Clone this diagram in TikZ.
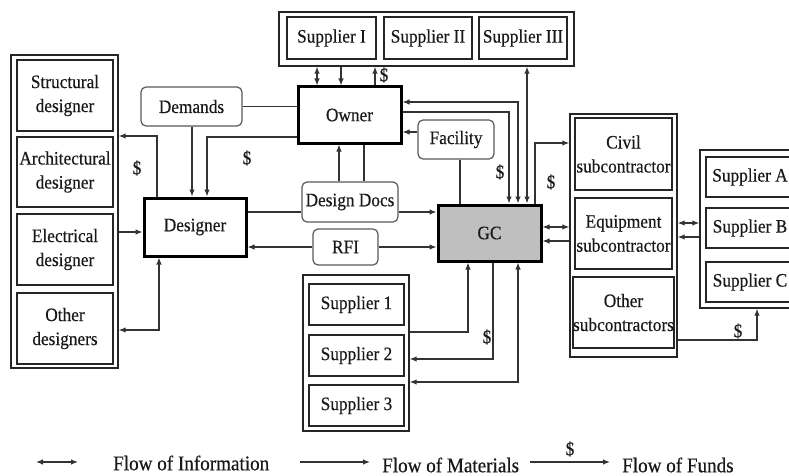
\documentclass[tikz,border=0pt]{standalone}
\usepackage{fontspec}
\setmainfont[FakeStretch=0.91,FakeBold=0.4]{Liberation Serif}
\usetikzlibrary{arrows.meta}
\begin{document}
\begin{tikzpicture}[x=1pt,y=-1pt,
  >={Latex[length=7pt,width=5.5pt]},
  txt/.style={font=\fontsize{19}{24}\selectfont, text=black!90},
  ibox/.style={draw=black!85, line width=2.2pt, inner sep=0pt, align=center, txt},
  grp/.style={draw=black!85, line width=1.4pt, inner sep=0pt},
  heavy/.style={draw=black, line width=3pt, inner sep=0pt, align=center, txt},
  rbox/.style={draw=black!65, line width=1.2pt, rounded corners=5pt, fill=white, inner sep=0pt, align=center, txt},
  conn/.style={draw=black!80, line width=1.2pt},
  mat/.style={conn, ->},
  info/.style={conn, <->},
  lbl/.style={txt, inner sep=0pt},
  leg/.style={font=\fontsize{21}{25}\selectfont, text=black!90, inner sep=0pt, anchor=west},
]
\useasboundingbox (0,0) rectangle (789,476);

% ---- top suppliers
\node[grp, minimum width=295, minimum height=54] (sgroup) at (426.5,39) {};
\node[ibox, minimum width=89, minimum height=42] (sI)   at (331.5,38) {Supplier I};
\node[ibox, minimum width=88, minimum height=42] (sII)  at (428,38)   {Supplier II};
\node[ibox, minimum width=88, minimum height=42] (sIII) at (523,38)   {Supplier III};

% ---- designers column
\node[grp, minimum width=107, minimum height=313] (dgroup) at (64.5,211.5) {};
\node[ibox, minimum width=96, minimum height=71] (struct) at (65,95.5)  {Structural\\designer};
\node[ibox, minimum width=96, minimum height=70] (arch)   at (65,172)   {Architectural\\designer};
\node[ibox, minimum width=96, minimum height=71] (elec)   at (65,249.5) {Electrical\\designer};
\node[ibox, minimum width=96, minimum height=71] (othd)   at (65,328.5) {Other\\designers};

% ---- lower suppliers
\node[grp, minimum width=106, minimum height=156] (lgroup) at (356,353) {};
\node[ibox, minimum width=95, minimum height=41] (s1) at (356.5,304.5) {Supplier 1};
\node[ibox, minimum width=95, minimum height=41] (s2) at (356.5,355.5) {Supplier 2};
\node[ibox, minimum width=95, minimum height=41] (s3) at (356.5,405.5) {Supplier 3};

% ---- subcontractors
\node[grp, minimum width=107, minimum height=243] (subgroup) at (623.5,235.5) {};
\node[ibox, minimum width=97, minimum height=72] (civil) at (623.5,154)   {Civil\\subcontractor};
\node[ibox, minimum width=97, minimum height=71] (equip) at (623.5,233.5) {Equipment\\subcontractor};
\node[ibox, minimum width=97, minimum height=71] (oths)  at (623.5,312.5) {Other\\subcontractors};

% ---- suppliers A-C
\node[grp, minimum width=100, minimum height=158] (abc) at (750,229) {};
\node[ibox, minimum width=88, minimum height=40] (sA) at (750,177) {Supplier A};
\node[ibox, minimum width=88, minimum height=40] (sB) at (750,228) {Supplier B};
\node[ibox, minimum width=88, minimum height=40] (sC) at (750,282) {Supplier C};

% ---- main parties
\node[heavy, minimum width=103, minimum height=56] (owner)    at (349.5,115) {Owner};
\node[heavy, minimum width=102, minimum height=58] (designer) at (195,227)   {Designer};
\node[heavy, fill=black!25, minimum width=103, minimum height=56] (gc) at (489.5,233) {GC};

% ---- documents
\node[rbox, minimum width=101, minimum height=39] (demands)  at (191.5,106.5) {Demands};
\node[rbox, minimum width=76,  minimum height=39] (facility) at (456,139.5)   {Facility};
\node[rbox, minimum width=96,  minimum height=40] (ddocs)    at (350,202)     {Design Docs};
\node[rbox, minimum width=65,  minimum height=36] (rfi)      at (345.5,247)   {RFI};

% ---- owner / top suppliers
\draw[info] (sgroup.south -| 317,0) -- (owner.north -| 317,0);
\draw[mat]  (sgroup.south -| 341,0) -- (owner.north -| 341,0);
\draw[mat]  (owner.north -| 375,0) -- (sgroup.south -| 375,0);
\node[lbl] (f1) at (384,75) {\$};
\draw[info] (sgroup.south -| 527,0) -- (gc.north -| 527,0);

% ---- owner / GC
\draw[info] (owner.east |- 0,102) -- (518,102) -- (gc.north -| 518,0);
\draw[mat]  (owner.east |- 0,112) -- (509,112) -- (gc.north -| 509,0);
\node[lbl] (f2) at (500,172) {\$};
\draw[mat]  (facility.west |- 0,132) -- (owner.east |- 0,132);
\draw[conn] (facility.south -| 460,0) -- (gc.north -| 460,0);

% ---- GC / subcontractors
\draw[mat]  (gc.north -| 535,0) -- (535,143) -- (subgroup.west |- 0,143);
\node[lbl] (f3) at (551,182) {\$};
\draw[info] (gc.east |- 0,227) -- (subgroup.west |- 0,227);
\draw[mat]  (subgroup.west |- 0,241) -- (gc.east |- 0,241);

% ---- subcontractors / suppliers A-C
\draw[info] (subgroup.east |- 0,223) -- (abc.west |- 0,223);
\draw[mat]  (abc.west |- 0,237) -- (subgroup.east |- 0,237);
\draw[mat]  (subgroup.east |- 0,340) -- (757,340) -- (abc.south -| 757,0);
\node[lbl] (f4) at (738,331) {\$};

% ---- GC / lower suppliers
\draw[mat]  (lgroup.east |- 0,332) -- (468,332) -- (gc.south -| 468,0);
\draw[mat]  (gc.south -| 493,0) -- (493,359) -- (lgroup.east |- 0,359);
\node[lbl] (f5) at (487,337) {\$};
\draw[info] (gc.south -| 518,0) -- (518,382) -- (lgroup.east |- 0,382);

% ---- designer / GC / owner
\draw[conn] (designer.east |- 0,212) -- (ddocs.west |- 0,212);
\draw[mat]  (ddocs.east |- 0,212) -- (gc.west |- 0,212);
\draw[mat]  (rfi.west) -- (designer.east |- rfi.west);
\draw[mat]  (rfi.east) -- (gc.west |- rfi.east);
\draw[mat]  (ddocs.north -| 339,0) -- (owner.south -| 339,0);
\draw[conn] (owner.south -| 364,0) -- (ddocs.north -| 364,0);
\draw[conn] (demands.east) -- (owner.west |- demands.east);
\draw[mat]  (demands.south -| 192,0) -- (designer.north -| 192,0);
\draw[mat]  (owner.west |- 0,137) -- (207,137) -- (designer.north -| 207,0);
\node[lbl] (f6) at (247,158) {\$};

% ---- designer / designers column
\draw[mat]  (designer.north -| 157,0) -- (157,136) -- (dgroup.east |- 0,136);
\node[lbl] (f7) at (137,168) {\$};
\draw[mat]  (dgroup.east |- 0,232) -- (designer.west |- 0,232);
\draw[info] (dgroup.east |- 0,330) -- (159,330) -- (designer.south -| 159,0);

% ---- legend
\coordinate (la1) at (36,462);  \coordinate (la2) at (78,462);
\coordinate (lb1) at (300,462); \coordinate (lb2) at (370,462);
\coordinate (lc1) at (530,462); \coordinate (lc2) at (610,462);
\draw[info] (la1) -- (la2);
\draw[mat]  (lb1) -- (lb2);
\draw[mat]  (lc1) -- (lc2);
\node[leg] (l1) at (113,463) {Flow of Information};
\node[leg] (l2) at (382,465) {Flow of Materials};
\node[leg] (l3) at (622,465) {Flow of Funds};
\node[lbl] (lf) at (570,449) {\$};
\end{tikzpicture}
\end{document}
